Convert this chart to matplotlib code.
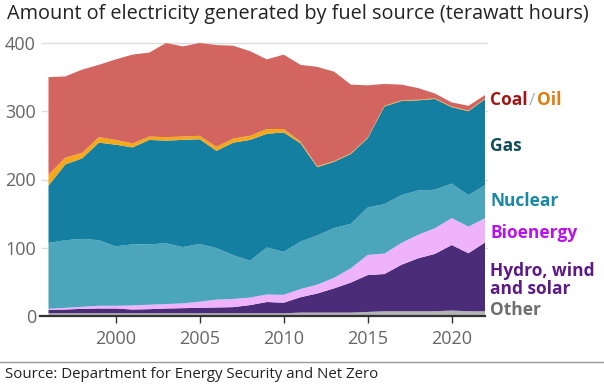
import matplotlib
matplotlib.use("Agg")
import matplotlib.pyplot as plt
import numpy as np

plt.rcParams['font.family'] = ['Open Sans', 'DejaVu Sans']

years = list(range(1996, 2023))

# TWh by source, bottom layer first
other = [4, 4, 4, 4, 4, 4, 4, 4, 4, 4, 4, 4, 4, 4, 4, 5, 5, 5, 5, 6, 7, 7, 7, 7, 8, 7, 7]
hydro_wind_solar = [5, 5.5, 6.5, 7, 7, 5.5, 6, 7, 7.5, 8, 8.5, 9, 12, 16.5, 15.5, 22.5, 28, 35.5, 44, 54,
                    54.5, 68, 77.5, 84, 96, 85, 101]
bioenergy = [1.5, 2.5, 3, 4, 4, 6, 6.5, 6.5, 7, 9, 11.5, 12, 11, 11, 11.5, 12, 13, 15.5, 21, 29.5,
             30, 32, 34.5, 37.5, 39.5, 39, 35.5]
nuclear = [96.5, 99, 99.5, 96, 87, 89.5, 88.5, 89, 82.5, 84.5, 75.5, 64, 54, 69, 63, 69.5, 72, 73, 65, 69.5,
           72.5, 70, 65, 56.5, 50.5, 46, 48.5]
gas = [84, 111, 118, 143, 149, 142, 153, 150.5, 157, 153.5, 142.5, 165, 177, 166.5, 175, 144, 100, 97, 102.5,
       101.5, 143, 138, 132, 133, 112, 123, 126]
oil = [16, 10, 8, 8, 7, 6, 5, 5, 5, 5, 6, 6, 6, 7, 5, 2.5, 1.5, 1, 1, 1, 1, 1, 1, 1, 1, 1, 1]
coal = [143, 119, 122, 106, 118, 130, 123, 138, 132, 136, 149, 136, 124, 102, 109, 112.5, 145.5, 131, 100.5,
        76.5, 32, 23, 17, 7, 6, 7, 5]

colors = ['#b4b4b4', '#4b2c78', '#efb3fc', '#4ba6bb', '#147fa0', '#f6a81b', '#d36560']
yticks = [0, 100, 200, 300, 400]
xticks = [2000, 2005, 2010, 2015, 2020]

fig = plt.figure(figsize=(6.04, 3.85), dpi=100)
ax = fig.add_axes([48.5 / 604, 1 - 316 / 385, (485.3 - 48.5) / 604, (316 - 43) / 385])

ax.stackplot(years, other, hydro_wind_solar, bioenergy, nuclear, gas, oil, coal,
             colors=colors, linewidth=0, zorder=2)

ax.set_xlim(1996, 2022)
ax.set_ylim(0, 400)
for s in ax.spines.values():
    s.set_visible(False)

# grid lines, a bit wider than the plot area
ytr = ax.get_yaxis_transform()
for v in yticks[1:]:
    ax.plot([-0.016, 1.004], [v, v], transform=ytr, color='#dcdcdc', lw=1, clip_on=False, zorder=1)
ax.plot([-0.02, 1.0], [0, 0], transform=ytr, color='#333333', lw=1.6, clip_on=False, zorder=3)

ax.set_yticks(yticks)
ax.set_yticklabels([str(v) for v in yticks])
ax.tick_params(axis='y', length=0, pad=9, labelsize=13, labelcolor='#666666')
ax.set_xticks(xticks)
ax.tick_params(axis='x', length=5, width=1, color='#333333', pad=5, labelsize=13, labelcolor='#666666')

fig.text(7 / 604, 1 - 14 / 385, 'Amount of electricity generated by fuel source (terawatt hours)',
         fontsize=14.3, color='#222222', va='center', ha='left')

# labels on the right
lx = 490 / 604
lab = dict(fontsize=12.5, fontweight='bold', va='center', ha='left')
t = fig.text(lx, 1 - 100 / 385, 'Coal', color='#a31515', **lab)
t2 = ax.annotate('/', xy=(1, 0), xycoords=t, xytext=(1, 0), textcoords='offset points',
                 color='#b0b0b0', fontsize=12.5, va='bottom', ha='left')
ax.annotate('Oil', xy=(1, 0), xycoords=t2, xytext=(1, 0), textcoords='offset points',
            color='#e07c10', fontsize=12.5, fontweight='bold', va='bottom', ha='left')
fig.text(lx, 1 - 146 / 385, 'Gas', color='#124b5b', **lab)
fig.text(lx, 1 - 201 / 385, 'Nuclear', color='#1b88a6', **lab)
fig.text(lx, 1 - 233 / 385, 'Bioenergy', color='#b813ec', **lab)
fig.text(lx, 1 - 280 / 385, 'Hydro, wind\nand solar', color='#5d1a86', linespacing=1.0, **lab)
fig.text(lx, 1 - 310 / 385, 'Other', color='#6e6e6e', **lab)

# footer
fig.add_artist(plt.Line2D([0, 1], [1 - 362 / 385, 1 - 362 / 385], color='#999999', lw=1))
fig.text(5 / 604, 1 - 375 / 385, 'Source: Department for Energy Security and Net Zero',
         fontsize=10.8, color='#222222', va='center', ha='left')

fig.savefig('out.png', dpi=100)
